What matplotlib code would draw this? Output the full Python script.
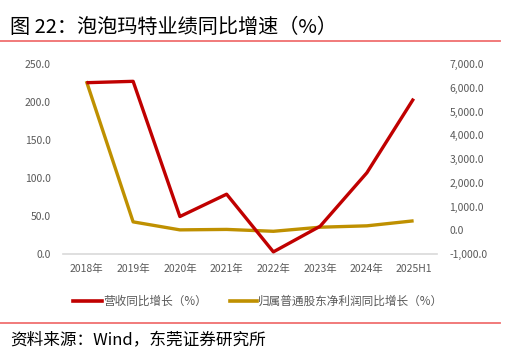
import matplotlib
matplotlib.use("Agg")
import matplotlib.pyplot as plt
from matplotlib.lines import Line2D

plt.rcParams['font.family'] = ['Noto Sans CJK SC', 'DejaVu Sans']

categories = ["2018年", "2019年", "2020年", "2021年", "2022年", "2023年", "2024年", "2025H1"]
revenue_growth = [225.4, 227.2, 49.3, 78.7, 2.8, 36.5, 106.9, 204.4]
profit_growth = [6279.0, 353.0, 16.0, 35.0, -44.0, 128.0, 186.0, 397.0]
left_ticks = [0, 50, 100, 150, 200, 250]
right_ticks = [-1000, 0, 1000, 2000, 3000, 4000, 5000, 6000, 7000]

RED = "#C00000"
GOLD = "#BF9000"
GRAY = "#595959"

W, H = 519, 354
fig = plt.figure(figsize=(W / 100, H / 100), dpi=100)

ax = fig.add_axes([63 / W, 1 - 254 / H, (437 - 63) / W, (254 - 64) / H])
ax2 = ax.twinx()

x = list(range(len(categories)))
ax.plot(x, revenue_growth, color=RED, lw=2.4, solid_capstyle='butt', zorder=3)
ax2.plot(x, profit_growth, color=GOLD, lw=2.4, solid_capstyle='butt', zorder=2)

ax.set_xlim(-0.5, len(categories) - 0.5)
ax.set_ylim(0, 250)
ax2.set_ylim(-1000, 7000)
ax.set_yticks(left_ticks)
ax.set_yticklabels([f"{v:.1f}" for v in left_ticks])
ax2.set_yticks(right_ticks)
ax2.set_yticklabels([f"{v:,.1f}" for v in right_ticks])
ax.set_xticks(x)
ax.set_xticklabels(categories)

for a in (ax, ax2):
    for s in a.spines.values():
        s.set_visible(False)
    a.tick_params(length=0, labelsize=7.5, labelcolor=GRAY)
ax.spines['bottom'].set_visible(True)
ax.spines['bottom'].set_color("#D9D9D9")
ax.spines['bottom'].set_linewidth(1.2)
ax.tick_params(axis='y', pad=9)
ax.tick_params(axis='x', pad=7)
ax2.tick_params(axis='y', pad=9)
ax.set_zorder(ax2.get_zorder() + 1)
ax.patch.set_visible(False)

# title and separators
fig.text(10 / W, 1 - 27 / H, "图 22：泡泡玛特业绩同比增速（%）", fontsize=14.5,
         va='center', ha='left', color="#000000")
fig.add_artist(Line2D([0, 500 / W], [1 - 41 / H, 1 - 41 / H], color="#F07070", lw=1.3))
fig.add_artist(Line2D([0, 500 / W], [1 - 323 / H, 1 - 323 / H], color="#F07070", lw=1.3))
fig.text(10 / W, 1 - 341 / H, "资料来源：Wind，东莞证券研究所", fontsize=12,
         va='center', ha='left', color="#000000")

# legend
ly = 1 - 301 / H
fig.add_artist(Line2D([73 / W, 102 / W], [ly, ly], color=RED, lw=2.6))
fig.text(103 / W, ly, "营收同比增长（%）", fontsize=8.4, va='center', ha='left', color=GRAY)
fig.add_artist(Line2D([230 / W, 257 / W], [ly, ly], color=GOLD, lw=2.6))
fig.text(258 / W, ly, "归属普通股东净利润同比增长（%）", fontsize=8.4, va='center', ha='left', color=GRAY)

fig.savefig("out.png", dpi=100)
